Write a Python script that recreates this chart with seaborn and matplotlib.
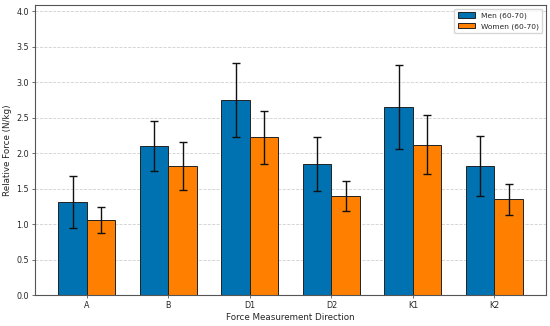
import numpy as np
import pandas as pd
import matplotlib
matplotlib.use("Agg")
import matplotlib.pyplot as plt
import seaborn as sns

# chart data
directions = ["A", "B", "D1", "D2", "K1", "K2"]
men_mean = [1.31, 2.10, 2.75, 1.84, 2.65, 1.82]
men_sd = [0.37, 0.35, 0.52, 0.38, 0.59, 0.42]
women_mean = [1.06, 1.82, 2.22, 1.39, 2.12, 1.35]
women_sd = [0.18, 0.34, 0.37, 0.21, 0.42, 0.22]
groups = ["Men (60-70)", "Women (60-70)"]


def main():
    # long table for seaborn
    df = pd.DataFrame({
        "direction": directions * 2,
        "group": [groups[0]] * len(directions) + [groups[1]] * len(directions),
        "mean": men_mean + women_mean,
        "sd": men_sd + women_sd,
    })

    sns.set_style("white")
    plt.rcParams["font.family"] = ["DejaVu Sans"]

    fig, ax = plt.subplots(figsize=(5.5, 3.26), dpi=100)

    sns.barplot(
        data=df,
        x="direction",
        y="mean",
        hue="group",
        hue_order=groups,
        order=directions,
        palette={groups[0]: "#0072B2", groups[1]: "#FF8000"},
        errorbar=None,
        width=0.7,
        edgecolor="#222222",
        linewidth=0.7,
        saturation=1,
        ax=ax,
    )

    # error bars at the bar centres
    for container, grp in zip(ax.containers, groups):
        sub = df[df["group"] == grp].set_index("direction").loc[directions]
        xs = [p.get_x() + p.get_width() / 2 for p in container.patches]
        ax.errorbar(xs, sub["mean"], yerr=sub["sd"], fmt="none",
                    ecolor="#111111", elinewidth=1.0, capsize=3, capthick=1.0)

    top = max(np.array(men_mean) + np.array(men_sd)) * 1.25
    ax.set_ylim(0, top)
    ax.set_xlim(-0.635, len(directions) - 1 + 0.635)
    ax.yaxis.grid(True, linestyle="--", linewidth=0.6, color="#bbbbbb", alpha=0.7)
    ax.set_axisbelow(True)
    for s in ax.spines.values():
        s.set_color("#555555")
        s.set_linewidth(0.8)
    ax.tick_params(axis="both", labelsize=5.8, length=2.5, width=0.6,
                   pad=2, direction="out", left=True, bottom=True,
                   color="#555555")

    ax.set_xlabel("Force Measurement Direction", fontsize=6.3, labelpad=2)
    ax.set_ylabel("Relative Force (N/kg)", fontsize=6.3, labelpad=3)
    ax.legend(loc="upper right", fontsize=5.4, frameon=True, borderpad=0.5,
              handlelength=2.2)

    fig.subplots_adjust(left=0.064, right=0.993, top=0.985, bottom=0.095)
    fig.savefig("out.png")


if __name__ == "__main__":
    main()
